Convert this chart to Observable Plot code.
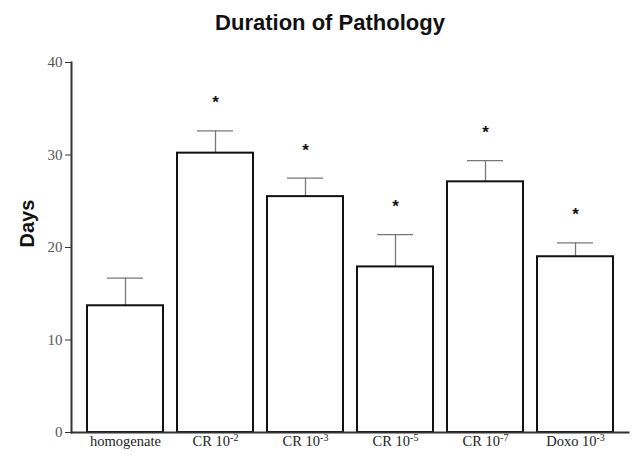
<!DOCTYPE html>
<html><head><meta charset="utf-8">
<script src="https://cdn.jsdelivr.net/npm/d3@7"></script>
<script src="https://cdn.jsdelivr.net/npm/@observablehq/plot@0.6"></script>
<style>
body{margin:0;background:#fff;}
#title{height:46px;font:bold 22px "Liberation Sans",Arial,sans-serif;text-align:center;padding-left:24px;line-height:46px;color:#111;}
#chart svg{display:block;}
</style></head><body>
<div id="title">Duration of Pathology</div>
<div id="chart"></div>
<script>
const groups = ["homogenate", "CR 10⁻²", "CR 10⁻³", "CR 10⁻⁵", "CR 10⁻⁷", "Doxo 10⁻³"];
const means = [13.7, 30.2, 25.5, 17.9, 27.1, 19.0];
const errors = [3.0, 2.4, 2.0, 3.5, 2.3, 1.5];
const significant = [false, true, true, true, true, true];
const yTicks = [0, 10, 20, 30, 40];
const yLabel = "Days";

const data = groups.map((g, i) => ({group: g, mean: means[i], top: means[i] + errors[i], sig: significant[i]}));

const serif = "Liberation Serif, Times New Roman, serif";
const sans = "Liberation Sans, Arial, sans-serif";

const chart = Plot.plot({
  width: 636, height: 415,
  marginTop: 16, marginBottom: 29, marginLeft: 71, marginRight: 8,
  style: {background: "#fff"},
  x: {domain: groups, padding: 0.16, label: null},
  y: {domain: [0, 40], ticks: yTicks, label: null},
  marks: [
    Plot.ruleX(data, {x: "group", y1: "mean", y2: "top", stroke: "#777", strokeWidth: 1.3}),
    Plot.tickY(data, {x: "group", y: "top", stroke: "#777", strokeWidth: 1.3, insetLeft: 20, insetRight: 20}),
    Plot.barY(data, {x: "group", y: "mean", fill: "white", stroke: "#111", strokeWidth: 2}),
    Plot.text(data.filter(d => d.sig), {x: "group", y: "top", text: () => "*", dy: -28, fontSize: 17, fontWeight: "bold", fill: "#111", fontFamily: sans}),
    Plot.frame({anchor: "left", stroke: "#333", strokeWidth: 2}),
    Plot.frame({anchor: "bottom", stroke: "#333", strokeWidth: 2}),
    Plot.axisY({ticks: yTicks, tickSize: 6, tickPadding: 3, fontSize: 15, fontFamily: serif, label: null, color: "#555", stroke: "#333"}),
    Plot.axisX({tickSize: 0, tickPadding: 3, fontSize: 14.5, fontFamily: serif, label: null, color: "#222"}),
    Plot.text([yLabel], {frameAnchor: "left", text: d => d, rotate: -90, dx: -44, fontSize: 20, fontWeight: "bold", fill: "#111", fontFamily: sans})
  ]
});
document.getElementById("chart").appendChild(chart);

// render exponents as superscripts
const supMap = {"⁻": "-", "²": "2", "³": "3", "⁵": "5", "⁷": "7"};
chart.querySelectorAll("g[aria-label='x-axis tick label'] text").forEach(t => {
  const m = t.textContent.match(/^(.*?)([⁻²³⁵⁷]+)$/);
  if (!m) return;
  t.textContent = m[1];
  const ts = document.createElementNS("http://www.w3.org/2000/svg", "tspan");
  ts.textContent = [...m[2]].map(c => supMap[c]).join("");
  ts.setAttribute("baseline-shift", "super");
  ts.setAttribute("font-size", "10");
  t.appendChild(ts);
});
</script>
</body></html>
